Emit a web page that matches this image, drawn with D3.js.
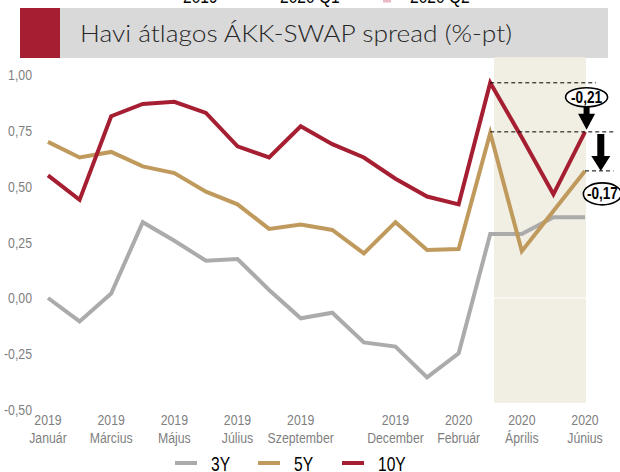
<!DOCTYPE html>
<html><head><meta charset="utf-8">
<script src="https://cdn.jsdelivr.net/npm/d3@7"></script>
<style>
html,body{margin:0;padding:0;background:#fff;}
svg{display:block;}
</style></head>
<body>
<svg id="chart" width="620" height="472"></svg>
<script>
// ---------------- DATA ----------------
const months = ["Január","Február","Március","Április","Május","Június","Július","Augusztus","Szeptember","Október","November","December",
                "Január","Február","Március","Április","Május","Június"];
const years  = ["2019","2019","2019","2019","2019","2019","2019","2019","2019","2019","2019","2019",
                "2020","2020","2020","2020","2020","2020"];
const labelIdx = [0,2,4,6,8,11,13,15,17];
const s3Y  = [0.00,-0.105,0.02,0.34,0.257,0.167,0.175,0.036,-0.091,-0.066,-0.199,-0.218,-0.356,-0.248,0.287,0.287,0.362,0.362];
const s5Y  = [0.70,0.63,0.655,0.59,0.56,0.477,0.42,0.31,0.33,0.305,0.20,0.34,0.215,0.22,0.74,0.21,0.39,0.57];
const s10Y = [0.55,0.44,0.815,0.87,0.88,0.83,0.68,0.63,0.77,0.69,0.63,0.535,0.455,0.42,0.965,0.72,0.465,0.745];
const seriesNames = ["3Y","5Y","10Y"];
const yTicks = [-0.5,-0.25,0,0.25,0.5,0.75,1];
const shadeIdx = [14.12, 17.03];
const shadeVal = [1.08, -0.47];
const topLegend = ["2019","2020 Q1","2020 Q2"];
const title = "Havi átlagos ÁKK-SWAP spread (%-pt)";
// annotation: [from, to, label]
const ann1 = [0.965, 0.745, "-0,21"];
const ann2 = [0.74, 0.57, "-0,17"];

// ---------------- STYLE ----------------
const colors = {"3Y":"#ababab","5Y":"#bf9a5c","10Y":"#a51e31"};
const narrow = "'Liberation Sans','Arial',sans-serif";
const SX = 0.82;
const svg = d3.select("#chart");

const x = d3.scaleLinear().domain([0,17]).range([48,585]);
const y = d3.scaleLinear().domain([-0.5,1]).range([409.5,75]);

// title
svg.append("rect").attr("x",60).attr("y",8).attr("width",548).attr("height",50).attr("fill","#d9d9d9");
svg.append("rect").attr("x",20).attr("y",8).attr("width",40).attr("height",50).attr("fill","#a51e31");
svg.append("text").attr("x",80).attr("y",42).attr("font-family","Lato, 'Noto Sans', sans-serif").attr("font-weight",300)
  .attr("font-size",24).attr("fill","#262626").attr("textLength",432).attr("lengthAdjust","spacingAndGlyphs").text(title);

// cut off top legend (as in the reference, only its lower edge is visible)
const tlx = [183,280,410];
svg.selectAll(".tl").data(topLegend).join("text").attr("class","tl")
  .attr("transform",(d,i)=>`translate(${tlx[i]},3) scale(${SX},1)`).attr("font-family",narrow).attr("font-size",19).attr("fill","#000").text(d=>d);
svg.append("rect").attr("x",383).attr("y",0).attr("width",8).attr("height",2.5).attr("fill","#e9b9c6");

// shade
svg.append("rect").attr("x",x(shadeIdx[0])).attr("y",y(shadeVal[0]))
  .attr("width",x(shadeIdx[1])-x(shadeIdx[0])).attr("height",y(shadeVal[1])-y(shadeVal[0])).attr("fill","#f1eee3");
svg.append("line").attr("x1",x(0)).attr("x2",x(17.1)).attr("y1",y(0)).attr("y2",y(0)).attr("stroke","#fff").attr("stroke-width",1);

// y axis
const yAxis = d3.axisLeft(y).tickValues(yTicks).tickSize(0).tickPadding(0)
  .tickFormat(d=>d3.format(".2f")(d).replace(".",",").replace("−","-"));
const ya = svg.append("g").attr("transform","translate(32,0)").call(yAxis);
ya.select(".domain").remove();
ya.selectAll("text").attr("font-family",narrow).attr("font-size",15).attr("fill","#7f7f7f")
  .attr("x",0).attr("transform",`scale(${SX},1)`);

// x labels
const xl = svg.append("g").selectAll("g").data(labelIdx).join("g").attr("transform",d=>`translate(${x(d)},0)`);
xl.append("text").attr("transform",`translate(0,425) scale(${SX},1)`).attr("text-anchor","middle").attr("font-family",narrow).attr("font-size",15).attr("fill","#7f7f7f").text(d=>years[d]);
xl.append("text").attr("transform",`translate(0,443) scale(${SX},1)`).attr("text-anchor","middle").attr("font-family",narrow).attr("font-size",15).attr("fill","#7f7f7f").text(d=>months[d]);

// lines
const line = d3.line().x((d,i)=>x(i)).y(d=>y(d));
const data = [s3Y,s5Y,s10Y];
svg.selectAll(".ser").data(data).join("path").attr("class","ser")
  .attr("d",line).attr("fill","none").attr("stroke",(d,i)=>colors[seriesNames[i]])
  .attr("stroke-width",4).attr("stroke-linejoin","miter");

// annotations
const dash = (x1,x2,v)=>svg.append("line").attr("x1",x1).attr("x2",x2).attr("y1",y(v)).attr("y2",y(v))
  .attr("stroke","#000").attr("stroke-width",1).attr("stroke-dasharray","4,3");
dash(x(14),x(17.35),ann1[0]);
dash(x(14),x(17.9),ann1[1]);
dash(x(17),x(17.9),ann2[1]);

function blockArrow(cx,top,bottom,shaftW,headW,headH){
  const p = d3.path();
  p.moveTo(cx-shaftW/2,top); p.lineTo(cx+shaftW/2,top); p.lineTo(cx+shaftW/2,bottom-headH);
  p.lineTo(cx+headW/2,bottom-headH); p.lineTo(cx,bottom); p.lineTo(cx-headW/2,bottom-headH);
  p.lineTo(cx-shaftW/2,bottom-headH); p.closePath();
  svg.append("path").attr("d",p.toString()).attr("fill","#000");
}
function bubble(cx,cy,rx,ry,t){
  svg.append("ellipse").attr("cx",cx).attr("cy",cy).attr("rx",rx).attr("ry",ry).attr("fill","#fff").attr("stroke","#000").attr("stroke-width",1.6);
  svg.append("text").attr("transform",`translate(${cx},${cy+5.5}) scale(0.85,1)`).attr("text-anchor","middle").attr("font-family",narrow)
    .attr("font-weight","bold").attr("font-size",16).attr("fill","#000").text(t);
}
blockArrow(x(17.05),y(ann1[0])+22,y(ann1[1])-2,6,17,16);
bubble(x(17.05),y(ann1[0])+14.5,21,9.5,ann1[2]);
blockArrow(x(17.5),y(ann2[0])+1,y(ann2[1]),7,19,15);
bubble(x(17.55),y(ann2[1])+23,19,11,ann2[2]);

// bottom legend
const lg = svg.append("g").selectAll("g").data(seriesNames).join("g")
  .attr("transform",(d,i)=>`translate(${[175,258,342][i]},463)`);
lg.append("line").attr("x1",0).attr("x2",22).attr("stroke",d=>colors[d]).attr("stroke-width",4);
lg.append("text").attr("transform",`translate(36,7.5) scale(0.78,1)`).attr("font-family",narrow).attr("font-size",20).attr("fill","#000").text(d=>d);
</script>
</body></html>
